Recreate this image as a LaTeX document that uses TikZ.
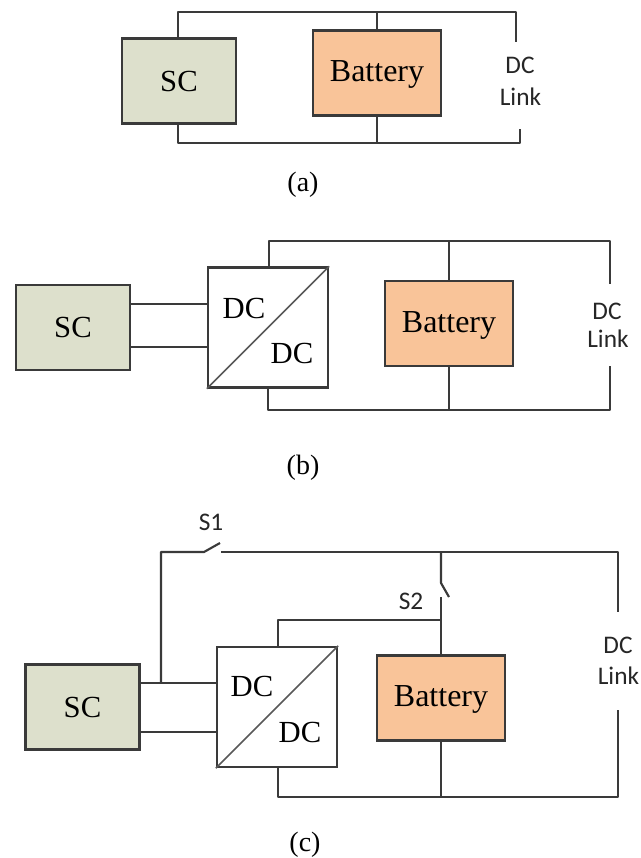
\documentclass[tikz,border=0pt]{standalone}
\usepackage{fontspec}
\setmainfont{Liberation Serif}
\newfontfamily\lab{Carlito}
\definecolor{scfill}{HTML}{DDE0CC}
\definecolor{batfill}{HTML}{F9C499}
\definecolor{wire}{HTML}{3A3A3A}
\newcommand{\battxt}{\raisebox{-6.5pt}[0pt][0pt]{Battery}}
\tikzset{
  wiring/.style={draw=wire,line width=1.6pt,line join=round},
  boxbase/.style={draw=wire,line width=1.9pt,minimum height=63.5pt,inner sep=0pt},
  scbox/.style={boxbase,fill=scfill,minimum width=85.5pt,font=\fontsize{23}{25}\selectfont},
  batbox/.style={boxbase,fill=batfill,minimum width=96pt,font=\fontsize{24}{26}\selectfont},
  conv/.style={draw=wire,line width=1.7pt,fill=white,minimum width=90pt,minimum height=90pt,inner sep=0pt},
  diag/.style={draw=wire!85,line width=1.3pt},
  dctext/.style={font=\fontsize{23}{25}\selectfont,inner sep=0pt},
  linklab/.style={font=\lab\fontsize{19}{21}\selectfont,inner sep=0pt,text=black!85},
  caption/.style={font=\fontsize{21}{24}\selectfont,inner sep=0pt}
}
\begin{document}
\begin{tikzpicture}[x=0.75pt,y=-0.75pt]
\useasboundingbox (0,0) rectangle (640,858);
\fill[white] (0,0) rectangle (640,858);
% (a)
\coordinate (atl) at (178,12);\coordinate (atr) at (516,12);\coordinate (ate) at (516,42);
\coordinate (abl) at (178,143);\coordinate (abr) at (520,143);\coordinate (abe) at (520,129);
\coordinate (atm) at (377,12);\coordinate (abm) at (377,143);
\draw[wiring] (178,39) -- (atl) -- (atr) -- (ate);
\draw[wiring] (178,123) -- (abl) -- (abr) -- (abe);
\draw[wiring] (atm) -- (377,31);
\draw[wiring] (377,115) -- (abm);
\node[scbox] (a1) at (179,81) {SC};
\node[batbox] (a2) at (377,73) {\battxt};
\node[linklab] (a3) at (520,65) {DC};
\node[linklab] (a4) at (520.5,97) {Link};
\node[caption] (a5) at (303,185) {(a)};
% (b)
\coordinate (btl) at (269,241);\coordinate (btr) at (610,241);\coordinate (bte) at (610,284);
\coordinate (bbl) at (268,410);\coordinate (bbr) at (610,410);\coordinate (bbe) at (610,366);
\coordinate (btm) at (449,241);\coordinate (bbm) at (449,410);
\draw[wiring] (269,268) -- (btl) -- (btr) -- (bte);
\draw[wiring] (268,388) -- (bbl) -- (bbr) -- (bbe);
\draw[wiring] (btm) -- (449,281);
\draw[wiring] (449,366) -- (bbm);
\node[scbox] (b1) at (73,327.5) {SC};
\node[conv] (b2) at (268,327.5) {};
\draw[diag] (b2.south west) -- (b2.north east);
\node[dctext] (b7) at (244,308) {DC};
\node[dctext] (b8) at (292,353) {DC};
\node[batbox] (b3) at (449,323.5) {\battxt};
\draw[wiring] (130,304) -- (208,304);
\draw[wiring] (130,347) -- (208,347);
\node[linklab] (b4) at (607,311) {DC};
\node[linklab] (b5) at (608,339) {Link};
\node[caption] (b6) at (303,468) {(b)};
% (c)
\coordinate (csl) at (161,552);\coordinate (csa) at (204,552);\coordinate (csb) at (220,543);\coordinate (csc) at (221,552);
\coordinate (cj) at (441,552);\coordinate (ctr) at (618,552);\coordinate (cte) at (618,612);
\coordinate (cta) at (441,583);\coordinate (ctb) at (449,597);\coordinate (ctc) at (441,597);
\coordinate (cm) at (441,620);\coordinate (cml) at (278,620);
\coordinate (cbl) at (278,797);\coordinate (cbr) at (618,797);\coordinate (cbe) at (618,710);\coordinate (cbm) at (441,797);
\draw[wiring] (161,683) -- (csl) -- (csa) -- (csb);
\draw[wiring] (csc) -- (ctr) -- (cte);
\draw[wiring] (cj) -- (cta) -- (ctb);
\draw[wiring] (ctc) -- (441,656);
\draw[wiring] (cm) -- (cml) -- (278,647);
\draw[wiring] (278,767) -- (cbl) -- (cbr) -- (cbe);
\draw[wiring] (441,740) -- (cbm);
\node[scbox] (c1) at (82.5,707) {SC};
\node[conv] (c2) at (277,707) {};
\draw[diag] (c2.south west) -- (c2.north east);
\node[dctext] (c9) at (252,686) {DC};
\node[dctext] (c10) at (300,732) {DC};
\node[batbox] (c3) at (441,698) {\battxt};
\draw[wiring] (139,683) -- (217,683);
\draw[wiring] (139,732) -- (217,732);
\node[linklab] (c4) at (211,522) {S1};
\node[linklab] (c5) at (411,601) {S2};
\node[linklab] (c6) at (618,645) {DC};
\node[linklab] (c7) at (618.5,676) {Link};
\node[caption] (c8) at (305,845) {(c)};
\end{tikzpicture}
\end{document}
